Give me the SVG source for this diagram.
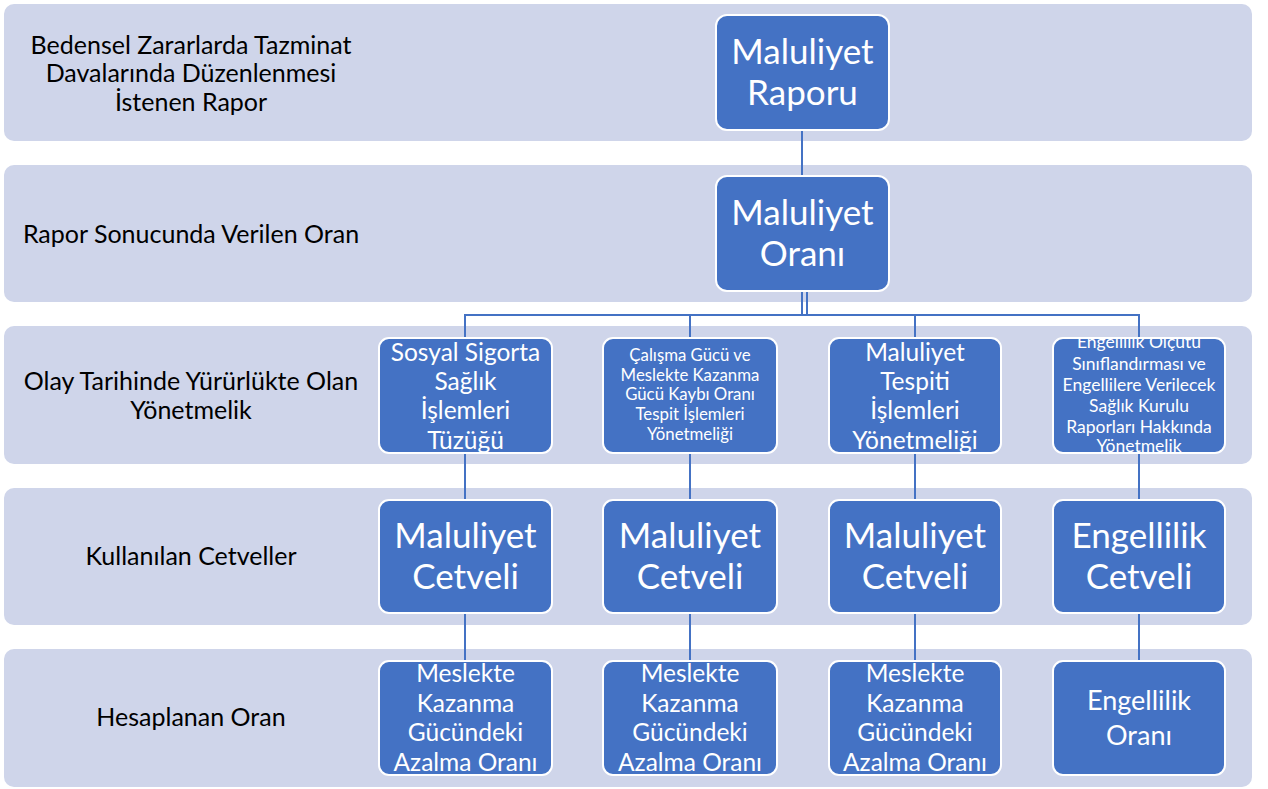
<svg xmlns="http://www.w3.org/2000/svg" width="1268" height="789" viewBox="0 0 1268 789">
<style>
.band{fill:#CFD5EA}
.node{fill:#4472C4;stroke:#FFFFFF;stroke-width:2}
.lbl{font-family:Lato,"Liberation Sans",sans-serif;fill:#000;font-size:25px;text-anchor:middle}
.t{font-family:Lato,"Liberation Sans",sans-serif;fill:#FFF;text-anchor:middle}
.big{font-size:35px}
.mid{font-size:24.5px}
.sm{font-size:16.8px}
.sm2{font-size:17.5px}
.conn{stroke:#4472C4;stroke-width:2;fill:none}
</style>
<defs>
<clipPath id="clipE"><rect x="1053" y="338" width="172" height="115" rx="10"/></clipPath>
</defs>
<g id="bands">
<rect class="band" x="4" y="4" width="1248" height="137" rx="10"/>
<rect class="band" x="4" y="165" width="1248" height="137" rx="10"/>
<rect class="band" x="4" y="326" width="1248" height="138" rx="10"/>
<rect class="band" x="4" y="488" width="1248" height="137" rx="10"/>
<rect class="band" x="4" y="649" width="1248" height="138" rx="10"/>
</g>
<g id="band-labels">
<text class="lbl"><tspan x="191" y="54">Bedensel Zararlarda Tazminat</tspan><tspan x="191" y="82">Davalarında Düzenlenmesi</tspan><tspan x="191" y="111">İstenen Rapor</tspan></text>
<text class="lbl" x="191" y="243">Rapor Sonucunda Verilen Oran</text>
<text class="lbl"><tspan x="191" y="390">Olay Tarihinde Yürürlükte Olan</tspan><tspan x="191" y="419">Yönetmelik</tspan></text>
<text class="lbl" x="191" y="565">Kullanılan Cetveller</text>
<text class="lbl" x="191" y="726">Hesaplanan Oran</text>
</g>
<g id="connectors">
<line class="conn" x1="802" y1="130" x2="802" y2="176"/>
<line class="conn" x1="802" y1="291" x2="802" y2="315"/>
<line class="conn" x1="807" y1="291" x2="807" y2="315"/>
<polyline class="conn" points="465,337 465,315 1139,315 1139,337"/>
<line class="conn" x1="690" y1="315" x2="690" y2="337"/>
<line class="conn" x1="915" y1="315" x2="915" y2="337"/>
<line class="conn" x1="465" y1="453" x2="465" y2="500"/>
<line class="conn" x1="690" y1="453" x2="690" y2="500"/>
<line class="conn" x1="915" y1="453" x2="915" y2="500"/>
<line class="conn" x1="1139" y1="453" x2="1139" y2="500"/>
<line class="conn" x1="465" y1="613" x2="465" y2="661"/>
<line class="conn" x1="690" y1="613" x2="690" y2="661"/>
<line class="conn" x1="915" y1="613" x2="915" y2="661"/>
<line class="conn" x1="1139" y1="613" x2="1139" y2="661"/>
</g>
<g id="n-rapor">
<rect class="node" x="716" y="15" width="173" height="115" rx="11"/>
<text class="t big"><tspan x="802.5" y="64">Maluliyet</tspan><tspan x="802.5" y="105">Raporu</tspan></text>
</g>
<g id="n-oran">
<rect class="node" x="716" y="176" width="173" height="115" rx="11"/>
<text class="t big"><tspan x="802.5" y="225">Maluliyet</tspan><tspan x="802.5" y="266">Oranı</tspan></text>
</g>
<g id="n-sosyal">
<rect class="node" x="379" y="338" width="173" height="115" rx="10"/>
<text class="t mid"><tspan x="465.5" y="360.5">Sosyal Sigorta</tspan><tspan x="465.5" y="389.5">Sağlık</tspan><tspan x="465.5" y="418.5">İşlemleri</tspan><tspan x="465.5" y="448.5">Tüzüğü</tspan></text>
</g>
<g id="n-calisma">
<rect class="node" x="603" y="338" width="174" height="115" rx="10"/>
<text class="t sm"><tspan x="690" y="361">Çalışma Gücü ve</tspan><tspan x="690" y="381">Meslekte Kazanma</tspan><tspan x="690" y="400">Gücü Kaybı Oranı</tspan><tspan x="690" y="420">Tespit İşlemleri</tspan><tspan x="690" y="440">Yönetmeliği</tspan></text>
</g>
<g id="n-tespit">
<rect class="node" x="829" y="338" width="172" height="115" rx="10"/>
<text class="t mid"><tspan x="915" y="360.5">Maluliyet</tspan><tspan x="915" y="389.5">Tespiti</tspan><tspan x="915" y="418.5">İşlemleri</tspan><tspan x="915" y="448.5">Yönetmeliği</tspan></text>
</g>
<g id="n-engellilik-yon">
<rect class="node" x="1053" y="338" width="172" height="115" rx="10"/>
<text class="t sm2" clip-path="url(#clipE)"><tspan x="1139" y="348">Engellilik Ölçütü</tspan><tspan x="1139" y="370">Sınıflandırması ve</tspan><tspan x="1139" y="391">Engellilere Verilecek</tspan><tspan x="1139" y="412">Sağlık Kurulu</tspan><tspan x="1139" y="433">Raporları Hakkında</tspan><tspan x="1139" y="452">Yönetmelik</tspan></text>
</g>
<g id="n-cetvel1">
<rect class="node" x="379" y="500" width="173" height="113" rx="10"/>
<text class="t big" font-size="35.5"><tspan x="465.5" y="548">Maluliyet</tspan><tspan x="465.5" y="589">Cetveli</tspan></text>
</g>
<g id="n-cetvel2">
<rect class="node" x="603" y="500" width="174" height="113" rx="10"/>
<text class="t big" font-size="35.5"><tspan x="690" y="548">Maluliyet</tspan><tspan x="690" y="589">Cetveli</tspan></text>
</g>
<g id="n-cetvel3">
<rect class="node" x="829" y="500" width="172" height="113" rx="10"/>
<text class="t big" font-size="35.5"><tspan x="915" y="548">Maluliyet</tspan><tspan x="915" y="589">Cetveli</tspan></text>
</g>
<g id="n-cetvel4">
<rect class="node" x="1053" y="500" width="172" height="113" rx="10"/>
<text class="t big" font-size="35.5"><tspan x="1139" y="548">Engellilik</tspan><tspan x="1139" y="589">Cetveli</tspan></text>
</g>
<g id="n-oran1">
<rect class="node" x="379" y="661" width="173" height="114" rx="10"/>
<text class="t mid"><tspan x="465.5" y="681.5">Meslekte</tspan><tspan x="465.5" y="711.5">Kazanma</tspan><tspan x="465.5" y="740.5">Gücündeki</tspan><tspan x="465.5" y="770.5">Azalma Oranı</tspan></text>
</g>
<g id="n-oran2">
<rect class="node" x="603" y="661" width="174" height="114" rx="10"/>
<text class="t mid"><tspan x="690" y="681.5">Meslekte</tspan><tspan x="690" y="711.5">Kazanma</tspan><tspan x="690" y="740.5">Gücündeki</tspan><tspan x="690" y="770.5">Azalma Oranı</tspan></text>
</g>
<g id="n-oran3">
<rect class="node" x="829" y="661" width="172" height="114" rx="10"/>
<text class="t mid"><tspan x="915" y="681.5">Meslekte</tspan><tspan x="915" y="711.5">Kazanma</tspan><tspan x="915" y="740.5">Gücündeki</tspan><tspan x="915" y="770.5">Azalma Oranı</tspan></text>
</g>
<g id="n-oran4">
<rect class="node" x="1053" y="661" width="172" height="114" rx="10"/>
<text class="t" font-size="27"><tspan x="1139" y="709.5">Engellilik</tspan><tspan x="1139" y="744.5">Oranı</tspan></text>
</g>
</svg>
